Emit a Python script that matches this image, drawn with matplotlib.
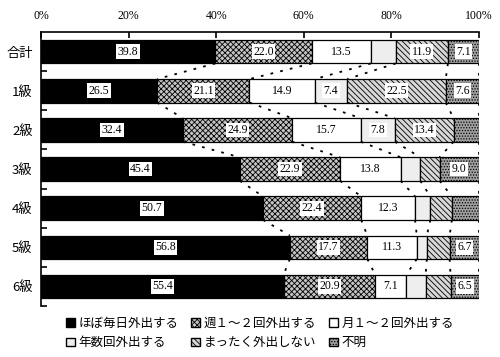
import numpy as np
import matplotlib.pyplot as plt
from matplotlib.patches import Patch

plt.rcParams['font.family'] = ['Noto Sans CJK JP', 'DejaVu Sans']
plt.rcParams['hatch.linewidth'] = 0.6

# données (%)
categories = ["合計", "1級", "2級", "3級", "4級", "5級", "6級"]
series = ["ほぼ毎日外出する", "週１～２回外出する", "月１～２回外出する",
          "年数回外出する", "まったく外出しない", "不明"]
daily = [39.8, 26.5, 32.4, 45.4, 50.7, 56.8, 55.4]
weekly = [22.0, 21.1, 24.9, 22.9, 22.4, 17.7, 20.9]
monthly = [13.5, 14.9, 15.7, 13.8, 12.3, 11.3, 7.1]
yearly = [5.7, 7.4, 7.8, 4.5, 3.5, 2.3, 4.4]
never = [11.9, 22.5, 13.4, 4.4, 4.9, 5.2, 5.7]
unknown = [7.1, 7.6, 5.8, 9.0, 6.2, 6.7, 6.5]
ticks_x = [0, 20, 40, 60, 80, 100]

values = np.array([daily, weekly, monthly, yearly, never, unknown])
styles = [
    dict(facecolor='black', hatch=None),
    dict(facecolor='#c4c4c4', hatch='xxxxxx'),
    dict(facecolor='white', hatch=None),
    dict(facecolor='#eeeeee', hatch=None),
    dict(facecolor='#d8d8d8', hatch='\\\\\\\\\\\\'),
    dict(facecolor='#a0a0a0', hatch='......'),
]

fig = plt.figure(figsize=(5, 3.57), dpi=100)
ax = fig.add_axes([0.082, 0.143, 0.876, 0.767])

y = np.arange(len(categories))
h = 0.6
left = np.zeros(len(categories))
for k in range(len(series)):
    ax.barh(y, values[k], left=left, height=h, color=styles[k]['facecolor'],
            hatch=styles[k]['hatch'], edgecolor='black', linewidth=0.9)
    for i in range(len(categories)):
        v = values[k][i]
        if v >= 6.3:
            ax.text(left[i] + v / 2, y[i], f"{v:.1f}", ha='center', va='center',
                    fontsize=8.5, family=['Liberation Serif'],
                    bbox=dict(facecolor='white', edgecolor='none', pad=1))
    left = left + values[k]

# lignes de liaison entre barres
cum = np.cumsum(values, axis=0)
for k in range(len(series)):
    for i in range(len(categories) - 1):
        ax.plot([cum[k][i], cum[k][i + 1]], [y[i] + h / 2, y[i + 1] - h / 2],
                color='black', linestyle=(0, (1.5, 4)), linewidth=1.3)

ax.set_xlim(0, 100)
ax.set_ylim(len(categories) - 0.5, -0.5)
ax.xaxis.tick_top()
ax.set_xticks(ticks_x)
ax.set_xticklabels([f"{t}%" for t in ticks_x], family=['Liberation Serif'], fontsize=8.5)
ax.tick_params(axis='x', direction='in', length=4, width=1.2, pad=7)
ax.set_yticks(y)
ax.set_yticklabels(categories, fontsize=9.5)
ax.tick_params(axis='y', length=0, pad=6)
ax.set_yticks(np.arange(0.5, len(categories)), minor=True)
ax.tick_params(axis='y', which='minor', direction='in', length=4, width=1.2)
for s in ['right', 'bottom']:
    ax.spines[s].set_visible(False)
for s in ['left', 'top']:
    ax.spines[s].set_linewidth(1.2)

handles = [Patch(facecolor=styles[k]['facecolor'], hatch=styles[k]['hatch'],
                 edgecolor='black', label=series[k]) for k in range(len(series))]
order = [0, 3, 1, 4, 2, 5]
fig.legend([handles[k] for k in order], [series[k] for k in order],
           loc='lower left', bbox_to_anchor=(0.11, -0.01), ncol=3, frameon=False,
           fontsize=9, handlelength=0.7, handleheight=0.7, handletextpad=0.3,
           columnspacing=1.0, labelspacing=0.5)

fig.savefig("out.png")
